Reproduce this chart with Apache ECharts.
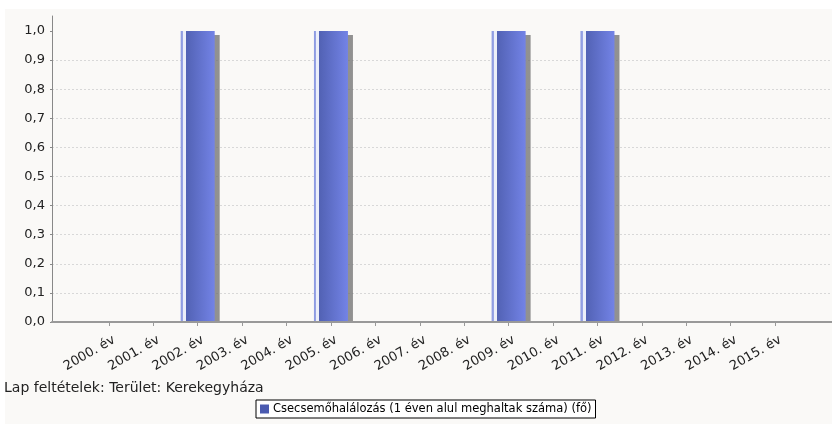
<!DOCTYPE html>
<html><head><meta charset="utf-8">
<script src="https://cdn.jsdelivr.net/npm/echarts@6/dist/echarts.min.js"></script>
<style>html,body{margin:0;padding:0;background:#fff}#c{width:832px;height:424px}</style>
</head><body><div id="c"></div>
<script>
const categories = ['2000. év','2001. év','2002. év','2003. év','2004. év','2005. év','2006. év','2007. év','2008. év','2009. év','2010. év','2011. év','2012. év','2013. év','2014. év','2015. év'];
const values = [0,0,1,0,0,1,0,0,0,1,0,1,0,0,0,0];
const yTicks = [0,0.1,0.2,0.3,0.4,0.5,0.6,0.7,0.8,0.9,1.0];
const seriesName = 'Csecsemőhalálozás (1 éven alul meghaltak száma) (fő)';
const noteText = 'Lap feltételek: Terület: Kerekegyháza';

const chart = echarts.init(document.getElementById('c'));
const idx = categories.map((_, i) => i);
const labelPos = idx.map(i => i + 0.12);
chart.setOption({
  animation: false,
  backgroundColor: '#fff',
  graphic: [
    {type:'rect', z:-10, shape:{x:5,y:9,width:827,height:415}, style:{fill:'#faf9f7'}, silent:true},
    {type:'rect', z:100, shape:{x:53,y:323,width:779,height:5}, style:{fill:'#faf9f7'}, silent:true},
    {type:'text', left:4, top:381, style:{text:noteText, font:'14px "DejaVu Sans"', fill:'#222'}}
  ],
  grid: {left:52, right:0, top:16, bottom:102, containLabel:false},
  xAxis: {
    type:'value', min:-1.28, max:16.28, z:200,
    axisLine:{show:true, onZero:false, lineStyle:{color:'#999', width:2}},
    axisTick:{show:true, customValues: idx, length:4, lineStyle:{color:'#999'}},
    axisLabel:{customValues: labelPos, rotate:30, margin:17, color:'#222', fontFamily:'DejaVu Sans', fontSize:13,
      formatter: v => categories[Math.round(v)]},
    splitLine:{show:false}
  },
  yAxis: {
    type:'value', min:0, max:1.0515,
    axisLine:{show:true, onZero:false, lineStyle:{color:'#888', width:1}},
    axisTick:{show:true, customValues: yTicks, length:2, lineStyle:{color:'#888'}},
    axisLabel:{customValues: yTicks, color:'#222', fontFamily:'DejaVu Sans', fontSize:13, margin:7,
      formatter: v => v.toFixed(1).replace('.', ',')},
    splitLine:{show:true, showMaxLine:false, lineStyle:{color:'#d8d8d8', type:[2,2], width:1}}
  },
  legend: {
    left:256, top:400, padding:[3,4,3,4], itemGap:0,
    borderColor:'#000', borderWidth:1, backgroundColor:'#fff',
    itemWidth:9, itemHeight:9, itemStyle:{shadowColor:'transparent', shadowOffsetX:0, shadowOffsetY:0},
    icon:'rect',
    textStyle:{fontFamily:'DejaVu Sans', fontSize:11.5, color:'#000', padding:[0,0,0,-1]},
    data:[{name:seriesName, itemStyle:{color:'#4a5ab0'}}]
  },
  series: [{
    name: seriesName,
    type:'bar',
    barWidth:34,
    z:5,
    data: values.map((v, i) => [i, v]),
    itemStyle:{
      color: new echarts.graphic.LinearGradient(0,0,1,0,[
        {offset:0, color:'#8a98e0'},
        {offset:0.06, color:'#9aa6e6'},
        {offset:0.07, color:'#eceff9'},
        {offset:0.15, color:'#eceff9'},
        {offset:0.16, color:'#5262b4'},
        {offset:1, color:'#7383e6'}
      ]),
      shadowColor:'rgba(110,110,110,0.75)', shadowOffsetX:5, shadowOffsetY:4, shadowBlur:0
    }
  }]
});
</script></body></html>
